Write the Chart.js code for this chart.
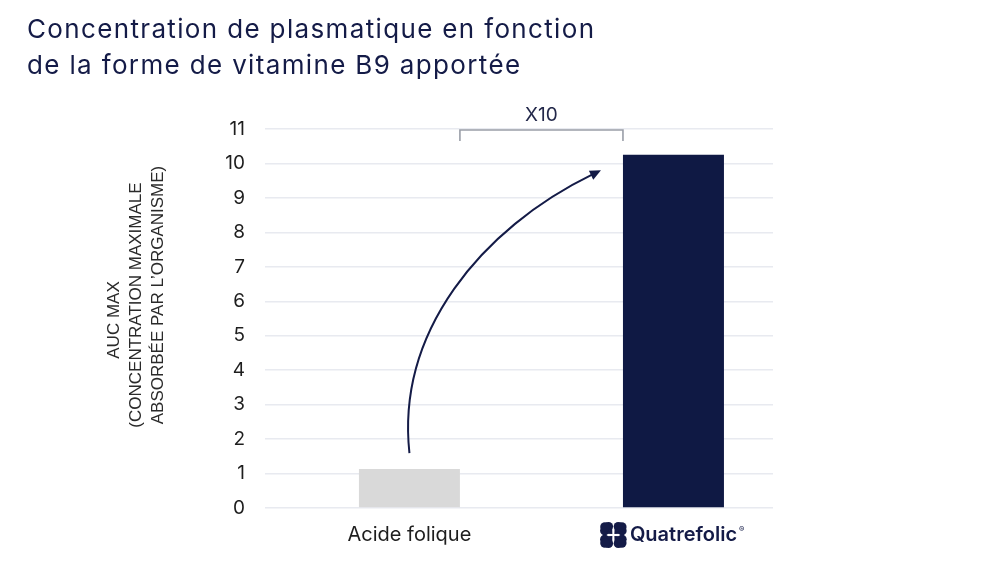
<!DOCTYPE html>
<html>
<head>
<meta charset="utf-8">
<script src="https://cdn.jsdelivr.net/npm/chart.js@4.4.1/dist/chart.umd.min.js"></script>
<style>
  html, body { margin: 0; padding: 0; background: #ffffff; }
  #wrap { position: relative; width: 1000px; height: 563px; overflow: hidden; }
  #title { position: absolute; left: 27px; top: 11px; font-family: Inter, "Noto Sans", sans-serif;
           font-size: 26px; line-height: 36px; letter-spacing: 1.35px; color: #141b47; font-weight: 400; white-space: nowrap; }
  canvas { position: absolute; left: 0; top: 0; }
</style>
</head>
<body>
<div id="wrap">
  <canvas id="c" width="1000" height="563"></canvas>
  <div id="title">Concentration de plasmatique en fonction<br>de la forme de vitamine B9 apportée</div>
</div>
<script>
// ---- data ----
const categories = ['Acide folique', 'Quatrefolic'];
const values = [1.13, 10.25];
const barColors = ['#d9d9d9', '#0f1944'];
const yMin = 0;
const yMax = 11;
const yStep = 1;
const yAxisTitle = ['AUC MAX', '(CONCENTRATION MAXIMALE', 'ABSORBÉE PAR L’ORGANISME)'];
const ratioLabel = 'X10';
const brandMark = '®';

const NAVY = '#141b47';
const tickFont = { family: 'Inter', size: 19, weight: '400' };
const catFont = { family: 'Inter', size: 20, weight: '400' };
const brandFont = { family: 'Inter', size: 20, weight: '600' };
const brandPrefix = '\u2002\u2002';

const points = categories.map((c, i) => ({ x: i, y: values[i] }));

const annotations = {
  id: 'annotations',
  afterDraw(chart) {
    const ctx = chart.ctx;
    const xs = chart.scales.x, ys = chart.scales.y;
    const bars = chart.getDatasetMeta(0).data;
    const b0 = bars[0], b1 = bars[1];

    // y axis title (three rotated lines)
    ctx.save();
    ctx.font = '17px "Liberation Sans", Arial, sans-serif';
    ctx.fillStyle = '#2a2a2a';
    ctx.textAlign = 'center';
    ctx.textBaseline = 'middle';
    const titleX = [114, 136, 158];
    const titleY = [320, 305, 295];
    yAxisTitle.forEach((t, i) => {
      ctx.save();
      ctx.translate(titleX[i], titleY[i]);
      ctx.rotate(-Math.PI / 2);
      ctx.fillText(t, 0, 0);
      ctx.restore();
    });
    ctx.restore();

    // bracket between bars
    const bl = b0.x + b0.width / 2;
    const br = b1.x - b1.width / 2;
    const by = ys.getPixelForValue(yMax) + 1;
    ctx.save();
    ctx.strokeStyle = '#9a9ea8';
    ctx.lineWidth = 1.6;
    ctx.beginPath();
    ctx.moveTo(bl, by + 11);
    ctx.lineTo(bl, by);
    ctx.lineTo(br, by);
    ctx.lineTo(br, by + 11);
    ctx.stroke();
    ctx.font = '400 19px Inter';
    ctx.fillStyle = '#23284a';
    ctx.textAlign = 'center';
    ctx.textBaseline = 'middle';
    ctx.fillText(ratioLabel, (bl + br) / 2, by - 15);
    ctx.restore();

    // curved arrow
    const x0 = b0.x, y0 = ys.getPixelForValue(values[0]) - 16;
    const x3 = br - 22, y3 = ys.getPixelForValue(9.8);
    const x1 = x0 - 13, y1 = ys.getPixelForValue(5.1);
    const x2 = x0 + 71, y2 = ys.getPixelForValue(8.1);
    let dx = x3 - x2, dy = y3 - y2;
    const len = Math.hypot(dx, dy); dx /= len; dy /= len;
    const hl = 11, hw = 5;
    ctx.save();
    ctx.strokeStyle = NAVY;
    ctx.fillStyle = NAVY;
    ctx.lineWidth = 2;
    ctx.beginPath();
    ctx.moveTo(x0, y0);
    ctx.bezierCurveTo(x1, y1, x2, y2, x3 - dx * hl * 0.8, y3 - dy * hl * 0.8);
    ctx.stroke();
    ctx.beginPath();
    ctx.moveTo(x3, y3);
    ctx.lineTo(x3 - dx * hl - dy * hw, y3 - dy * hl + dx * hw);
    ctx.lineTo(x3 - dx * hl + dy * hw, y3 - dy * hl - dx * hw);
    ctx.closePath();
    ctx.fill();
    ctx.restore();

    // brand logo: clover + registered mark around the second tick label
    ctx.save();
    ctx.font = brandFont.weight + ' ' + brandFont.size + 'px ' + brandFont.family;
    const label = xs.ticks[1] ? xs.ticks[1].label : '';
    const w = ctx.measureText(label).width;
    const pw = ctx.measureText(brandPrefix).width;
    const cx = xs.getPixelForValue(1);
    const textStart = cx - w / 2 + pw;
    const right = cx + w / 2;
    const cy = ys.bottom + 27;
    ctx.fillStyle = NAVY;
    const ccx = textStart - 16.5, ccy = cy;
    const leaf = (ox, oy) => {
      // heart-like leaf: two lobes + point to centre
      const lx = ccx + ox * 7.2, ly = ccy + oy * 6.6;
      ctx.beginPath();
      ctx.arc(lx + ox * 1.5, ly - oy * 2.3, 4.6, 0, Math.PI * 2);
      ctx.fill();
      ctx.beginPath();
      ctx.arc(lx - ox * 2.3, ly + oy * 1.8, 4.6, 0, Math.PI * 2);
      ctx.fill();
      ctx.beginPath();
      ctx.arc(lx + ox * 1.2, ly + oy * 1.4, 4.8, 0, Math.PI * 2);
      ctx.fill();
      ctx.beginPath();
      ctx.moveTo(ccx + ox * 1.0, ccy + oy * 1.0);
      ctx.lineTo(ccx + ox * 7.5, ccy + oy * 1.2);
      ctx.lineTo(ccx + ox * 1.2, ccy + oy * 7.0);
      ctx.closePath();
      ctx.fill();
    };
    leaf(-1, -1); leaf(1, -1); leaf(-1, 1); leaf(1, 1);
    // registered mark
    ctx.font = '600 8px Inter';
    ctx.textAlign = 'left';
    ctx.textBaseline = 'middle';
    ctx.fillText(brandMark, right + 2, cy - 5);
    ctx.restore();
  }
};

new Chart(document.getElementById('c'), {
  type: 'bar',
  data: {
    labels: categories,
    datasets: [{
      data: points,
      backgroundColor: barColors,
      borderWidth: 0,
      categoryPercentage: 0.5,
      barPercentage: 0.765
    }]
  },
  options: {
    responsive: false,
    animation: false,
    devicePixelRatio: 1,
    layout: { padding: { left: 0, right: 227, top: 129, bottom: 0 } },
    plugins: { legend: { display: false }, tooltip: { enabled: false }, title: { display: false } },
    scales: {
      x: {
        type: 'linear',
        min: -0.547,
        max: 1.377,
        offset: false,
        grid: { display: false },
        border: { display: false },
        afterBuildTicks: (axis) => { axis.ticks = categories.map((c, i) => ({ value: i })); },
        afterFit: (axis) => { axis.height = 55; },
        ticks: {
          padding: 7,
          autoSkip: false,
          maxRotation: 0,
          callback: (v) => (v === 1 ? brandPrefix : '') + categories[v],
          color: (ctx) => ctx.index === 1 ? NAVY : '#1e1e1e',
          font: (ctx) => ctx.index === 1 ? brandFont : catFont
        }
      },
      y: {
        min: yMin,
        max: yMax,
        grid: { color: '#e8eaf0', lineWidth: 1.5, drawTicks: false },
        border: { display: false },
        afterFit: (axis) => { axis.width = 265; },
        ticks: {
          stepSize: yStep,
          padding: 20,
          color: '#1e1e1e',
          font: tickFont
        }
      }
    }
  },
  plugins: [annotations]
});
</script>
</body>
</html>
